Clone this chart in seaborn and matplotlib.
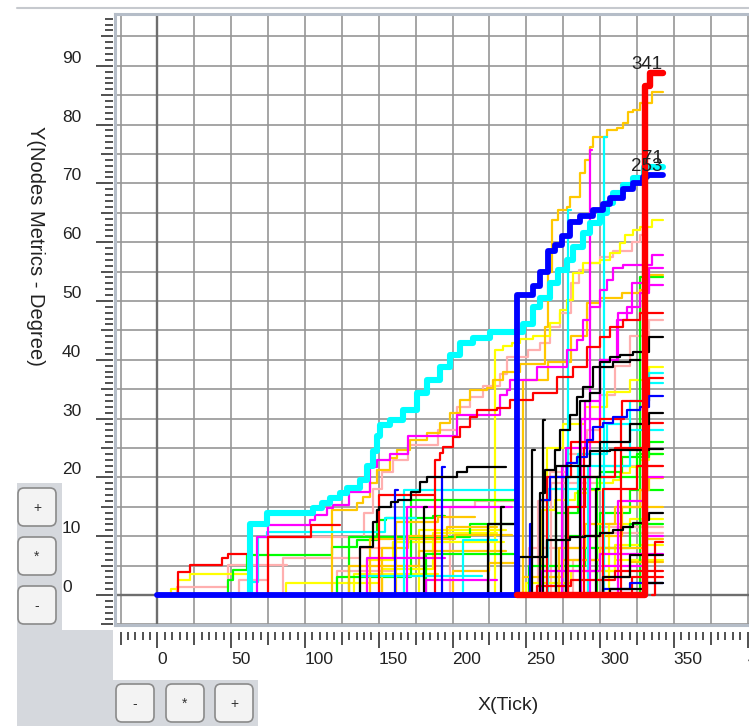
import numpy as np
import pandas as pd
import seaborn as sns
import matplotlib.pyplot as plt
from matplotlib.patches import FancyBboxPatch, Polygon

# ---- data: step series (tick, degree) ----
blue_x = [0, 243.7, 254.6, 259.3, 264.7, 269.5, 274.2, 279.7, 286.4, 295.3, 302.0, 306.8, 315.6, 322.4, 329.2, 332, 342.5]
blue_y = [0, 51, 52.5, 55, 58.5, 59.5, 61, 63.5, 64.5, 65.5, 66.5, 67.5, 69, 70, 71, 71.5, 71.5]
red_x = [243.7, 330.5, 334, 342.5]
red_y = [0, 86.5, 88.7, 88.7]
cyan_x = [50, 62.7, 74.2, 105.4, 111.5, 117, 123.7, 128.5, 137.3, 142, 146, 148.5, 151, 157.6, 166.4, 176, 182.7,
          191.5, 198.3, 205, 214, 225.4, 247.8, 254.6, 259.3, 266, 271.4, 277.6, 281.7, 288.5, 293.2, 300, 304.7,
          308.8, 315.6, 322.4, 330, 342.5]
cyan_y = [0, 12, 14, 14.8, 15.6, 16.5, 17.3, 18.2, 19.5, 22, 24.5, 27, 28.9, 29.8, 31.5, 34.4, 36.6, 38.8, 40.8,
          42.9, 43.7, 44.8, 46, 49, 50.5, 53, 55.3, 57, 59.2, 61.6, 63.3, 65, 66.7, 68.4, 69.7, 70.9, 72.8, 72.8]
end_labels = ['341', '253', '71']

orange_lines = [
    ([113.6, 118.3, 135.3, 139.3, 144, 148.8, 157.6, 162.4, 171.2, 182.7, 191.5, 198.3, 205, 211.9, 223.4, 227.5,
      234.2, 245.8, 262.7, 264.7, 267.5, 271.5, 277.6, 279.7, 286.4, 289.8, 293.2, 295.3, 304.7, 311.5, 315.6, 319,
      322.4, 327.1, 335.3, 342.5],
     [0, 14.5, 15.6, 16.7, 19, 21.3, 23.3, 24.7, 26.4, 27.6, 29.3, 31, 33.2, 34.9, 35.2, 36.6, 37.9, 39.3, 45.6, 55,
      63.8, 65.5, 66, 67.7, 71.8, 74, 76.2, 77.9, 79, 79.4, 80.3, 82.1, 82.5, 83.7, 85.5, 85.5]),
    ([245.8, 248, 265, 280, 291, 300, 315, 327, 333, 342.5], [0, 36.6, 39.6, 44, 49.7, 50.5, 51.3, 51.9, 54.4, 54.4]),
    ([270, 272, 290, 310, 327, 333, 342.5], [0, 8, 12, 15, 17.9, 19.9, 19.9]),
    ([300, 302, 320, 342.5], [0, 3, 5.6, 5.6]),
    ([150, 152, 170, 196, 230], [0, 8, 10, 11.6, 11.6]),
    ([195, 200, 225, 243], [0, 4, 5.5, 5.5]),
    ([160, 162, 190, 215], [0, 12.5, 13.3, 13.3]),
    ([128, 130, 175, 177, 236], [0, 5, 5, 7.5, 7.5]),
    ([142, 144, 200, 202, 240], [0, 9.5, 9.5, 10.2, 10.2]),
    ([246, 248, 275, 300, 330, 342.5], [0, 3, 6, 8, 9.5, 9.5]),
    ([290, 292, 315, 342.5], [0, 10, 15, 15]),
]
yellow_lines = [
    ([226, 228.8, 234, 240, 245.8, 254.6, 266, 272.9, 277.6, 281.7, 288.5, 300, 306.8, 313.6, 317, 322.4, 327.1, 335,
      342.5],
     [0, 41.7, 42.3, 42.9, 43.5, 44, 46.3, 48.5, 50.2, 54.8, 56.5, 57, 58.2, 59.9, 61.2, 62.1, 62.6, 63.8, 63.8]),
    ([6, 9, 13.8, 22, 62], [0, 1, 2.6, 3.5, 3.5]),
    ([85, 87, 150], [0, 2, 2]),
    ([259, 261, 269.5, 283, 293.2, 300, 308.8, 313.6, 320.3, 327.1, 333, 342.5],
     [0, 14.5, 16.2, 17.3, 17.9, 19, 19.6, 20.7, 21.8, 23, 24, 24]),
    ([262, 264, 275, 290, 305, 320, 333, 342.5], [0, 25, 29, 32, 34.5, 36.5, 38.8, 38.8]),
    ([290, 292, 310, 342.5], [0, 4, 8.5, 8.5]),
    ([140, 142, 160, 235], [0, 6, 9, 9]),
    ([175, 177, 236], [0, 11, 11]),
    ([304, 306, 320, 342.5], [0, 12, 13, 13]),
    ([131, 133, 190], [0, 3.5, 3.5]),
    ([150, 152, 185, 187, 230], [0, 4.5, 4.5, 10.5, 10.5]),
    ([248, 250, 280, 310, 342.5], [0, 2, 4, 6, 6]),
]
pink_lines = [
    ([50, 55, 75, 135, 140, 146, 152, 160, 170, 190, 203, 212, 221, 232, 237, 251, 259, 266, 273, 280, 286, 293, 300,
      309, 322, 327, 332],
     [0, 2.6, 9.9, 9.9, 14, 18, 21, 23, 25.5, 28, 32, 33.7, 35.5, 37.5, 40.5, 41.7, 42.9, 45.5, 48, 53, 55.3, 56.5,
      57.5, 58.5, 60, 61.2, 61.2]),
    ([12, 13, 46, 48, 88], [0, 1.4, 1.4, 5.1, 5.1]),
    ([84, 85, 135, 137, 160, 200], [0, 6.3, 6.3, 8, 9, 9]),
    ([256, 258, 266, 277.6, 291, 300, 310, 320, 333, 342.5], [0, 16, 21, 24, 28, 34, 39, 44, 46.8, 46.8]),
    ([280, 282, 300, 342.5], [0, 6, 11.6, 11.6]),
    ([196, 198, 215, 243], [0, 15, 16, 16]),
    ([120, 122, 160], [0, 4, 4]),
    ([250, 252, 300, 342.5], [0, 8, 10.5, 10.5]),
    ([265, 267, 300, 342.5], [0, 19, 22, 22]),
]
magenta_lines = [
    ([64, 67.5, 74.9, 103.4, 106.8, 114.9, 119, 130, 144, 148.8, 157.6, 170, 203, 232.2, 237, 239, 257.3, 277.6,
      284.4, 288.5, 293.2, 300, 304.7, 308.8, 315.6, 335.3, 342.5],
     [0, 9.9, 11.9, 12.8, 13.6, 14.8, 15.3, 17.5, 21.8, 23, 24, 27, 30.6, 34, 34.9, 36.6, 38.8, 41.7, 43.4, 46.8, 49,
      51.9, 53.6, 55.6, 56.1, 57.8, 57.8]),
    ([292, 293.5, 294.5], [0, 75.7, 75.7]),
    ([275, 277, 290, 300, 311.5, 318, 327, 333, 342.5], [0, 25, 33, 40, 46.8, 49, 51.4, 52.7, 52.7]),
    ([285, 287, 300, 312, 322, 333, 342.5], [0, 30, 40, 48, 53, 55.6, 55.6]),
    ([140, 142, 195], [0, 6.3, 6.3]),
    ([165, 169, 240], [0, 15, 15]),
    ([272, 274, 276], [0, 22, 22]),
    ([300, 302, 330, 342.5], [0, 5, 10, 10]),
    ([180, 182, 230], [0, 2.5, 2.5]),
    ([259, 261, 300, 342.5], [0, 4, 7, 7]),
    ([310, 312, 330, 342.5], [0, 16, 20, 20]),
]
red_lines = [
    ([10.5, 14, 22, 44, 48, 61], [0, 3.9, 5.1, 6.3, 7, 7]),
    ([73.6, 75, 104, 124], [0, 9.9, 11.9, 11.9]),
    ([187, 188, 191.5, 193.5, 200.3, 205, 211.9, 216.6, 230, 239, 254.6, 270.8, 281.7, 291.2, 300, 306.8, 315.6,
      327.1, 342.5],
     [0, 23, 24.1, 25.2, 26.9, 28.6, 30.3, 31.5, 31.8, 33.2, 34.4, 37.1, 38.8, 42.2, 43.9, 45.6, 46.8, 48, 48]),
    ([262, 264, 280, 300, 315, 333, 342.5], [0, 20, 26, 30, 33, 36.9, 36.9]),
    ([276, 278, 290, 310, 333, 342.5], [0, 15, 20, 25, 29.3, 29.3]),
    ([288, 289, 290], [0, 25, 25]),
    ([313, 314, 316], [0, 30, 30]),
    ([148, 150, 188], [0, 17, 17]),
    ([320, 322, 342.5], [0, 3, 3]),
    ([255, 257, 280, 310, 342.5], [0, 1.5, 2.5, 4, 4]),
    ([300, 302, 325, 342.5], [0, 18, 22, 22]),
    ([335, 337, 342.5], [0, 9, 9]),
]
green_lines = [
    ([47, 48, 51, 61, 117, 118, 135, 148.8, 155, 187, 195], [0, 2.5, 4.3, 6.8, 6.8, 8.2, 9.4, 12.8, 13.1, 13.5, 13.5]),
    ([120, 122, 170, 172, 243.7], [0, 3, 3, 16.2, 16.2]),
    ([268, 270, 285, 300, 315, 333, 342.5], [0, 14, 18, 21, 23.5, 26, 26]),
    ([275, 277, 300, 320, 342.5], [0, 10, 14, 17.9, 17.9]),
    ([325, 327, 342.5], [0, 54, 54]),
    ([180, 182, 243], [0, 7, 7]),
    ([128, 130, 210, 212, 243], [0, 9.8, 9.8, 12, 12]),
    ([250, 252, 290, 320, 342.5], [0, 5, 8, 12, 12]),
    ([296, 298, 325, 342.5], [0, 20, 24, 24]),
]
cyan_lines = [
    ([60, 62, 68, 74, 150, 154, 175], [0, 2.2, 9.9, 10.7, 10.7, 13.1, 13.1]),
    ([302, 303, 304.5], [0, 77.9, 77.9]),
    ([277, 278.6, 280], [0, 65.5, 65.5]),
    ([263, 265, 285, 305, 320, 333, 342.5], [0, 18, 24, 29, 33, 37.8, 37.8]),
    ([165, 167, 243], [0, 17.9, 17.9]),
    ([205, 207, 230], [0, 9.4, 9.4]),
    ([135, 137, 220], [0, 3.2, 3.2]),
    ([290, 292, 320, 342.5], [0, 22, 28, 28]),
    ([330, 332, 342.5], [0, 36, 36]),
]
blue_lines = [
    ([255, 259.3, 266, 277.6, 284.4, 291.2, 295.3, 302, 308.8, 318.3, 327.1, 333, 342.5],
     [0, 16.2, 20, 22.4, 23.5, 26.4, 28.6, 29.3, 30.3, 31.5, 32, 33.8, 33.8]),
    ([160, 161, 163], [0, 17.9, 17.9]),
    ([192, 193, 195], [0, 21.8, 21.8]),
    ([251, 252.5, 254], [0, 12, 12]),
    ([300, 302, 320, 342.5], [0, 1, 2, 2]),
]
black_lines = [
    ([136, 137.3, 146, 149, 150.5, 158, 163, 172, 178, 182.7, 203, 210, 236],
     [0, 8.2, 12.5, 14.5, 15, 15.8, 16.2, 17.5, 19.2, 20.1, 20.9, 21.8, 21.8]),
    ([257, 259.3, 262.7, 269.5, 272.9, 279.7, 284.4, 288.5, 295.3, 300, 306.8, 313.6, 322.4, 333, 342.5],
     [0, 17.3, 21.3, 24.7, 28, 30.6, 33.7, 35.4, 38.8, 39.6, 40.5, 40.8, 41.3, 43.9, 43.9]),
    ([283, 286.4, 293.2, 300, 308.8, 320.3, 327], [0, 33, 34.4, 38.8, 39.6, 40, 40]),
    ([243, 245, 264, 279.7, 290, 300, 308.8, 315.6, 322.4, 329.2, 333, 342.5],
     [0, 6.5, 9.4, 9.9, 10, 10.5, 11, 11.6, 12.2, 12.8, 13.9, 13.9]),
    ([266, 270, 293.2, 306.8, 333, 342.5], [0, 22, 24.5, 24.7, 24.8, 24.8]),
    ([275, 277, 300, 320, 333, 342.5], [0, 20, 26, 29, 31, 31]),
    ([253, 254, 256], [0, 24.7, 24.7]),
    ([260, 261.5, 263], [0, 29.8, 29.8]),
    ([232, 233, 235], [0, 15, 15]),
    ([180, 181, 183], [0, 15, 15]),
    ([300, 302, 320, 342.5], [0, 3, 6.8, 6.8]),
    ([222, 224, 243], [0, 12, 12]),
    ([305, 307, 330, 342.5], [0, 1, 2, 2]),
    ([296, 297, 299], [0, 18, 18]),
]

x_ticks = np.arange(0, 401, 50)
y_ticks = np.arange(0, 91, 10)

# ---- figure ----
W, H = 749, 726
GREY = '#d5d8dd'
sns.set_style('white')
plt.rcParams['font.family'] = ['Liberation Sans', 'DejaVu Sans']

fig = plt.figure(figsize=(W / 100, H / 100), dpi=100)


def px_axes(l, t, r, b):
    return fig.add_axes([l / W, 1 - b / H, (r - l) / W, (b - t) / H])


bg = fig.add_axes([0, 0, 1, 1])
bg.set_xlim(0, W)
bg.set_ylim(H, 0)
bg.axis('off')
bg.add_patch(Polygon([(17, 483), (62, 483), (62, 630), (113, 630), (113, 680), (258, 680), (258, 726), (17, 726)],
                     closed=True, fc=GREY, ec='none'))
bg.plot([17, W], [8, 8], color='#c6c9ce', lw=1.5)
for x0, y0, lab in [(17, 487, '+'), (17, 536, '*'), (17, 585, '-'),
                    (115, 683, '-'), (165, 683, '*'), (214, 683, '+')]:
    bg.add_patch(FancyBboxPatch((x0 + 1, y0 + 1), 38, 38, boxstyle='round,pad=0,rounding_size=6',
                                fc='#f3f3f3', ec='#8a8a8a', lw=1.2))
    bg.text(x0 + 20, y0 + 21, lab, ha='center', va='center', fontsize=10, color='#333333')

ax = px_axes(115, 14, 749, 625)


def frame(lines):
    rows = [(i, x, y) for i, (xs, ys) in enumerate(lines) for x, y in zip(xs, ys)]
    return pd.DataFrame(rows, columns=['node', 'tick', 'degree'])


groups = [
    (pink_lines, '#ffafaf'), (yellow_lines, '#ffff00'), (green_lines, '#00ff00'), (orange_lines, '#ffc800'),
    (cyan_lines, '#00ffff'), (magenta_lines, '#ff00ff'), (red_lines, '#ff0000'), (blue_lines, '#0000ff'),
    (black_lines, '#000000'),
]
for lines, col in groups:
    sns.lineplot(data=frame(lines), x='tick', y='degree', units='node', estimator=None, color=col, lw=1.6,
                 drawstyle='steps-post', ax=ax, legend=False, zorder=3)

thick = [(cyan_x, cyan_y, '#00ffff', 4.4, 4), (blue_x, blue_y, '#0000ff', 4.2, 5), (red_x, red_y, '#ff0000', 4.6, 6)]
for xs, ys, col, lw, z in thick:
    sns.lineplot(x=xs, y=ys, color=col, lw=lw, drawstyle='steps-post', ax=ax, zorder=z, estimator=None)

for (xs, ys), lab in zip([(red_x, red_y), (blue_x, blue_y), (cyan_x, cyan_y)], end_labels):
    ax.text(xs[-1], ys[-1], lab, ha='right', va='bottom', fontsize=13.5, color='#222222', zorder=7)

ax.set_xlim(-28.8, 401)
ax.set_ylim(-5.1, 98.8)
ax.set_xticks(np.arange(-25, 401, 25))
ax.set_yticks(np.arange(-5, 100, 5))
ax.grid(True, color='#969696', lw=1.2)
ax.set_axisbelow(True)
ax.tick_params(length=0, labelbottom=False, labelleft=False)
ax.set_xlabel('')
ax.set_ylabel('')
ax.axhline(0, color='#6e6e6e', lw=1.7, zorder=1)
ax.axvline(0, color='#6e6e6e', lw=1.7, zorder=1)
for s in ['left', 'bottom', 'top']:
    ax.spines[s].set_color('#b5bdc8')
    ax.spines[s].set_linewidth(2.2)
ax.spines['right'].set_visible(False)


def medium_ticks(axis, step, size):
    locs = axis.get_minorticklocs()
    for loc, tick in zip(locs, axis.get_minor_ticks(len(locs))):
        if abs(loc / step - round(loc / step)) < 1e-6:
            tick.tick1line.set_markersize(size)
            tick.tick2line.set_markersize(size)


# y ruler
ry = px_axes(62, 14, 113, 625)
ry.set_ylim(ax.get_ylim())
ry.set_xticks([])
for s in ry.spines.values():
    s.set_visible(False)
ry.patch.set_visible(False)
ry.set_yticks(y_ticks)
ry.set_yticks(np.arange(-5, 99, 1), minor=True)
ry.tick_params(axis='y', which='both', left=False, right=True, labelleft=True, labelright=False,
               direction='in', pad=0, color='#333333', width=1.2)
ry.tick_params(axis='y', which='major', length=12)
ry.tick_params(axis='y', which='minor', length=5.5)
for lbl in ry.get_yticklabels():
    lbl.set_ha('left')
    lbl.set_va('bottom')
    lbl.set_fontsize(12.5)
    lbl.set_color('#222222')
medium_ticks(ry.yaxis, 5, 8.5)
ry.set_ylabel('Y(Nodes Metrics - Degree)', rotation=-90, ha='center', va='center', fontsize=14.5, color='#222222')
ry.yaxis.set_label_coords(-0.51, 0.62)

# x ruler
rx = px_axes(115, 632, 749, 648)
rx.set_xlim(ax.get_xlim())
rx.set_yticks([])
for s in rx.spines.values():
    s.set_visible(False)
rx.patch.set_visible(False)
rx.set_xticks(x_ticks)
rx.set_xticks(np.arange(-25, 401, 5), minor=True)
rx.tick_params(axis='x', which='both', top=True, bottom=False, labeltop=False, labelbottom=True,
               direction='in', pad=3, color='#333333', width=1.2)
rx.tick_params(axis='x', which='major', length=11.5)
rx.tick_params(axis='x', which='minor', length=6)
for lbl in rx.get_xticklabels():
    lbl.set_ha('left')
    lbl.set_fontsize(12.5)
    lbl.set_color('#222222')
medium_ticks(rx.xaxis, 25, 9)
rx.set_xlabel('X(Tick)', fontsize=14, color='#222222', va='center')
rx.xaxis.set_label_coords(0.62, -3.6)

fig.savefig('out.png', dpi=100)
